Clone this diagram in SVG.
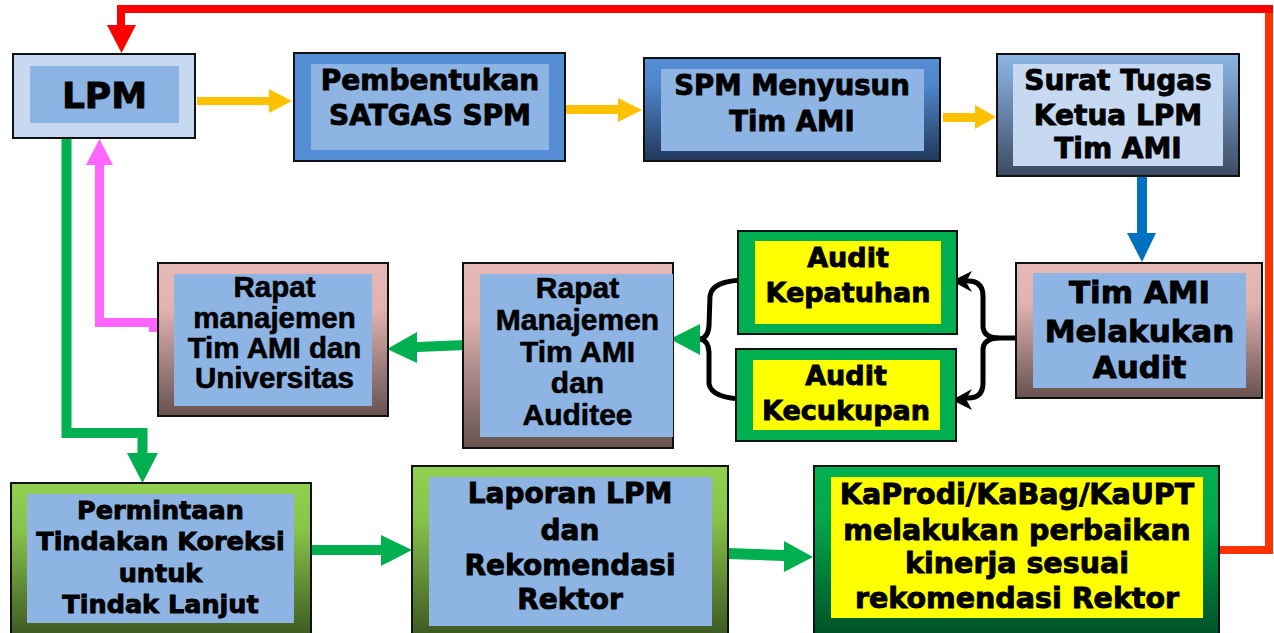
<svg xmlns="http://www.w3.org/2000/svg" width="1274" height="633" viewBox="0 0 1274 633">
<defs>
<linearGradient id="gNavy" x1="0" y1="0" x2="0" y2="1"><stop offset="0" stop-color="#558ED5"/><stop offset="0.25" stop-color="#4F87CC"/><stop offset="1" stop-color="#22375A"/></linearGradient>
<linearGradient id="gSteel" x1="0" y1="0" x2="0" y2="1"><stop offset="0" stop-color="#8EB4E3"/><stop offset="0.2" stop-color="#7FA3D0"/><stop offset="1" stop-color="#3C4A62"/></linearGradient>
<linearGradient id="gRose" x1="0" y1="0" x2="0" y2="1"><stop offset="0" stop-color="#E6B9B8"/><stop offset="0.3" stop-color="#E0B2B0"/><stop offset="1" stop-color="#665250"/></linearGradient>
<linearGradient id="gLime" x1="0" y1="0" x2="0" y2="1"><stop offset="0" stop-color="#92D050"/><stop offset="0.3" stop-color="#88C34A"/><stop offset="1" stop-color="#3A5520"/></linearGradient>
<linearGradient id="gGreen" x1="0" y1="0" x2="0" y2="1"><stop offset="0" stop-color="#00B050"/><stop offset="0.3" stop-color="#00A84C"/><stop offset="1" stop-color="#004D25"/></linearGradient>
</defs>
<style>
.o{stroke:#111;stroke-width:2}
.ib{fill:#8EB4E3}
.il{fill:#C6D9F1}
.iy{fill:#FFFF00}
.t{font-family:"DejaVu Sans","Verdana",sans-serif;font-weight:bold;fill:#000;stroke:#000;stroke-width:0.9;text-anchor:middle}
.a{font-family:"Liberation Sans","Arial",sans-serif;font-weight:bold;fill:#000;stroke:#000;stroke-width:0.6;text-anchor:middle}
.brace{fill:none;stroke:#000;stroke-width:5;stroke-linecap:round;stroke-linejoin:round}
</style>
<rect width="1274" height="633" fill="#FFFFFF"/>

<g id="connectors">
  <polyline points="1219,550 1269,550 1269,9" fill="none" stroke="#FF3300" stroke-width="8"/>
  <polyline points="1273,9 121,9 121,27" fill="none" stroke="#FF0000" stroke-width="8"/>
  <polygon points="107,25 136,25 121.5,53" fill="#FF0000"/>
  <rect x="197" y="97" width="73" height="8" fill="#FFC000"/>
  <polygon points="269,89 292,101 269,113" fill="#FFC000"/>
  <rect x="565" y="105" width="54" height="9" fill="#FFC000"/>
  <polygon points="618,98 642,110 618,122" fill="#FFC000"/>
  <rect x="943" y="113" width="33" height="9" fill="#FFC000"/>
  <polygon points="975,105 996,117 975,129" fill="#FFC000"/>
  <rect x="1137" y="176" width="10" height="58" fill="#0070C0"/>
  <polygon points="1127,233 1156,233 1142,262" fill="#0070C0"/>
  <path class="brace" d="M968 281 Q983 281 983 296 L983 326 Q983 338 1000 338 L1018 338 M1000 338 Q983 338 983 350 L983 383 Q983 398 968 398"/>
  <polygon points="952,281 972,271 966,282 972,292" fill="#000"/>
  <polygon points="952,400 972,389 966,399 972,410" fill="#000"/>
  <path class="brace" d="M747 280 Q712 280 710 296 L709 326 Q708 338 700 339 Q708 340 709 352 L709 384 Q712 399 747 399"/>
  <polygon points="670,339 700,324 700,355" fill="#00B050"/>
  <polygon points="466,340 466,350 417,352 417,363 387,349 417,332 417,342" fill="#00B050"/>
  <polyline points="158,322.5 99.5,322.5 99.5,163" fill="none" stroke="#FF66FF" stroke-width="9"/>
  <rect x="149" y="318" width="9" height="14" fill="#FF66FF"/>
  <polygon points="86,165 113,165 99.5,139" fill="#FF66FF"/>
  <polyline points="66.5,138 66.5,433 142.5,433 142.5,455" fill="none" stroke="#00B050" stroke-width="10"/>
  <polygon points="127,453 158,453 142.5,483" fill="#00B050"/>
  <rect x="311" y="545" width="71" height="10" fill="#00B050"/>
  <polygon points="381,535 412,550 381,566" fill="#00B050"/>
  <polygon points="728,548 784,550 784,541 813,557 784,572 784,561 728,559" fill="#00B050"/>
</g>

<g id="lpm">
  <rect class="o" x="13" y="54" width="182" height="84" fill="#C6D9F1"/>
  <rect class="ib" x="30" y="66" width="149" height="57"/>
  <text class="t" x="104.5" y="108" font-size="36">LPM</text>
</g>
<g id="pembentukan">
  <rect class="o" x="294" y="53" width="271" height="108" fill="#558ED5"/>
  <rect class="ib" x="311" y="64" width="238" height="86"/>
  <text class="t" x="430" y="90" font-size="28">Pembentukan</text>
  <text class="t" x="430" y="125" font-size="28">SATGAS SPM</text>
</g>
<g id="spm-menyusun">
  <rect class="o" x="644" y="58" width="296" height="103" fill="url(#gNavy)"/>
  <rect class="ib" x="661" y="69" width="263" height="82"/>
  <text class="t" x="792" y="95" font-size="27.5">SPM Menyusun</text>
  <text class="t" x="792" y="131" font-size="27.5">Tim AMI</text>
</g>
<g id="surat-tugas">
  <rect class="o" x="997" y="54" width="242" height="122" fill="url(#gSteel)"/>
  <rect class="il" x="1013" y="64" width="210" height="102"/>
  <text class="t" x="1118" y="90" font-size="28">Surat Tugas</text>
  <text class="t" x="1118" y="125" font-size="28">Ketua LPM</text>
  <text class="t" x="1118" y="158" font-size="28">Tim AMI</text>
</g>
<g id="tim-ami-audit">
  <rect class="o" x="1016" y="263" width="246" height="135" fill="url(#gRose)"/>
  <rect class="ib" x="1033" y="273" width="213" height="115"/>
  <text class="t" x="1139.5" y="303" font-size="31">Tim AMI</text>
  <text class="t" x="1139.5" y="342" font-size="31">Melakukan</text>
  <text class="t" x="1139.5" y="378" font-size="31">Audit</text>
</g>
<g id="audit-kepatuhan">
  <rect class="o" x="738" y="231" width="219" height="103" fill="#00B050"/>
  <rect class="iy" x="755" y="241" width="186" height="83"/>
  <text class="t" x="848" y="267" font-size="27">Audit</text>
  <text class="t" x="848" y="302" font-size="27">Kepatuhan</text>
</g>
<g id="audit-kecukupan">
  <rect class="o" x="736" y="349" width="220" height="92" fill="#00B050"/>
  <rect class="iy" x="753" y="360" width="187" height="70"/>
  <text class="t" x="846" y="385" font-size="27">Audit</text>
  <text class="t" x="846" y="420" font-size="27">Kecukupan</text>
</g>
<g id="rapat-auditee">
  <rect class="o" x="463" y="263" width="210" height="185" fill="url(#gRose)"/>
  <rect class="ib" x="480" y="274" width="193" height="163"/>
  <text class="a" x="577.5" y="298" font-size="30">Rapat</text>
  <text class="a" x="577.5" y="330" font-size="30">Manajemen</text>
  <text class="a" x="577.5" y="362" font-size="30">Tim AMI</text>
  <text class="a" x="577.5" y="393" font-size="30">dan</text>
  <text class="a" x="577.5" y="425" font-size="30">Auditee</text>
</g>
<g id="rapat-universitas">
  <rect class="o" x="158" y="263" width="230" height="153" fill="url(#gRose)"/>
  <rect class="ib" x="174" y="274" width="198" height="132"/>
  <text class="a" x="274.5" y="297" font-size="29.5">Rapat</text>
  <text class="a" x="274.5" y="328" font-size="29.5">manajemen</text>
  <text class="a" x="274.5" y="358" font-size="29.5">Tim AMI dan</text>
  <text class="a" x="274.5" y="388" font-size="29.5">Universitas</text>
</g>
<g id="permintaan">
  <rect class="o" x="11" y="483" width="300" height="157" fill="url(#gLime)"/>
  <rect class="ib" x="27" y="494" width="267" height="129"/>
  <text class="t" x="160.5" y="519" font-size="25.5">Permintaan</text>
  <text class="t" x="160.5" y="550" font-size="25.5">Tindakan Koreksi</text>
  <text class="t" x="160.5" y="582" font-size="25.5">untuk</text>
  <text class="t" x="160.5" y="613" font-size="25.5">Tindak Lanjut</text>
</g>
<g id="laporan">
  <rect class="o" x="412" y="466" width="316" height="174" fill="url(#gLime)"/>
  <rect class="ib" x="429" y="477" width="283" height="149"/>
  <text class="t" x="570" y="503" font-size="28">Laporan LPM</text>
  <text class="t" x="570" y="540" font-size="28">dan</text>
  <text class="t" x="570" y="575" font-size="28">Rekomendasi</text>
  <text class="t" x="570" y="609" font-size="28">Rektor</text>
</g>
<g id="kaprodi">
  <rect class="o" x="814" y="466" width="405" height="174" fill="url(#gGreen)"/>
  <rect class="iy" x="831" y="477" width="372" height="141"/>
  <text class="t" x="1017" y="504" font-size="28.5">KaProdi/KaBag/KaUPT</text>
  <text class="t" x="1017" y="540" font-size="28.5">melakukan perbaikan</text>
  <text class="t" x="1017" y="573" font-size="28.5">kinerja sesuai</text>
  <text class="t" x="1017" y="608" font-size="28.5">rekomendasi Rektor</text>
</g>
</svg>
